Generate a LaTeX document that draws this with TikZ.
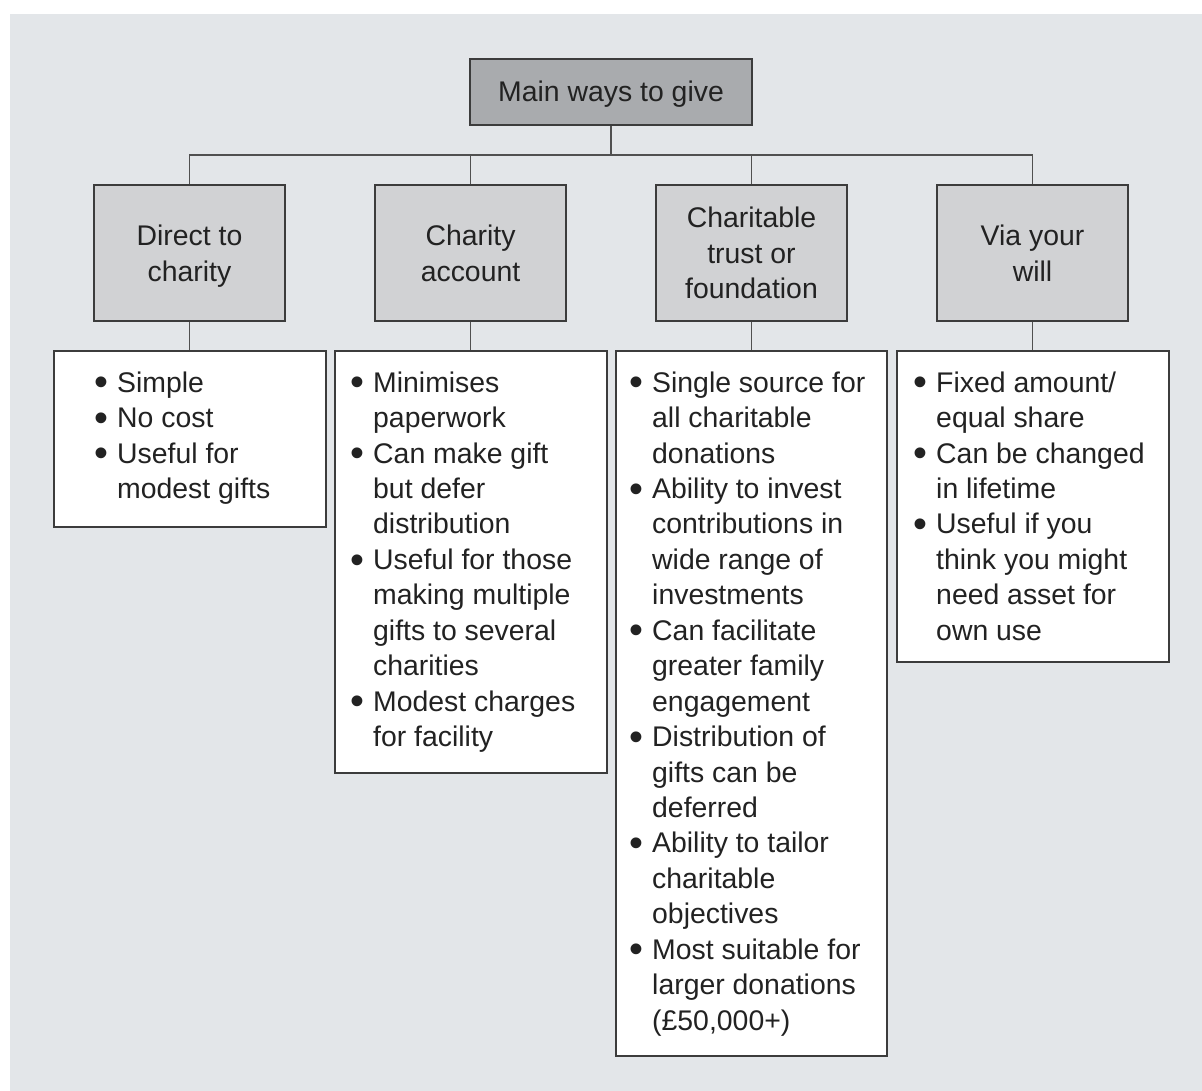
\documentclass[tikz,border=0pt]{standalone}
\usepackage{fontspec}
\usepackage{graphicx}
\setmainfont{Liberation Sans}
\definecolor{bggray}{HTML}{E3E6E9}
\definecolor{topgray}{HTML}{A9ABAE}
\definecolor{midgray}{HTML}{D1D2D4}
\definecolor{edgegray}{HTML}{3C3C3C}
\definecolor{txt}{HTML}{222222}
\newcommand{\bul}{\strut\makebox[21.5pt][l]{\hspace*{-1.5pt}\smash{\raisebox{-3.6pt}{\scalebox{1.4}{•}}}}}
\newcommand{\ind}{\strut\hspace*{21.5pt}}
\tikzset{
  boxbase/.style={draw=edgegray, line width=1.6pt, inner sep=0pt, text=txt},
  topbox/.style={boxbase, fill=topgray},
  catbox/.style={boxbase, fill=midgray, minimum width=191pt, minimum height=136pt},
  detbox/.style={boxbase, fill=white},
  btext/.style={anchor=north west, inner sep=0pt, align=left, text=txt,
    font=\fontsize{28.4}{35.44}\selectfont},
  ctext/.style={align=center, inner sep=0pt, text=txt, font=\fontsize{28.4}{35.44}\selectfont},
  conn/.style={draw=edgegray!90, line width=1.6pt}
}
\begin{document}
\begin{tikzpicture}[x=1pt,y=-1pt]
\useasboundingbox (0,0) rectangle (1202,1091);
\fill[white] (0,0) rectangle (1202,1091);
\fill[bggray] (10,14) rectangle (1202,1091);

% top box
\node[topbox, minimum width=282pt, minimum height=66pt] (top) at (611,92) {};
\node[ctext] (topt) at (611,94) {\strut Main ways to give};

% category boxes
\node[catbox] (c1) at (189.5,253) {};
\node[catbox] (c2) at (470.5,253) {};
\node[catbox] (c3) at (751.5,253) {};
\node[catbox] (c4) at (1032.5,253) {};
\node[ctext] (c1t) at (189.5,256.5) {\strut Direct to\\\strut charity};
\node[ctext] (c2t) at (470.5,256.5) {\strut Charity\\\strut account};
\node[ctext] (c3t) at (751.5,256) {\strut Charitable\\\strut trust or\\\strut foundation};
\node[ctext] (c4t) at (1032.5,256.5) {\strut Via your\\\strut will};

% detail boxes
\node[detbox, minimum width=272pt, minimum height=176pt] (d1) at (190,439) {};
\node[detbox, minimum width=272pt, minimum height=422pt] (d2) at (471,562) {};
\node[detbox, minimum width=271pt, minimum height=705pt] (d3) at (751.5,703.5) {};
\node[detbox, minimum width=272pt, minimum height=311pt] (d4) at (1033,506.5) {};

% texts
\node[btext] (t1) at (95.5,367.2) {\bul Simple\\\bul No cost\\\bul Useful for\\\ind modest gifts};
\node[btext] (t2) at (351.5,367.2) {\bul Minimises\\\ind paperwork\\\bul Can make gift\\\ind but defer\\\ind distribution\\\bul Useful for those\\\ind making multiple\\\ind gifts to several\\\ind charities\\\bul Modest charges\\\ind for facility};
\node[btext] (t3) at (630.5,367.2) {\bul Single source for\\\ind all charitable\\\ind donations\\\bul Ability to invest\\\ind contributions in\\\ind wide range of\\\ind investments\\\bul Can facilitate\\\ind greater family\\\ind engagement\\\bul Distribution of\\\ind gifts can be\\\ind deferred\\\bul Ability to tailor\\\ind charitable\\\ind objectives\\\bul Most suitable for\\\ind larger donations\\\ind (£50,000+)};
\node[btext] (t4) at (914.5,367.2) {\bul Fixed amount/\\\ind equal share\\\bul Can be changed\\\ind in lifetime\\\bul Useful if you\\\ind think you might\\\ind need asset for\\\ind own use};

% connectors
\coordinate (hub) at (611,155);
\draw[conn] (top.south) -- (hub);
\draw[conn] (c1.north) |- (hub) -| (c4.north);
\draw[conn] (c2.north) -- (c2.north |- hub);
\draw[conn] (c3.north) -- (c3.north |- hub);
\draw[conn] (c1.south) -- (d1.north -| c1.south);
\draw[conn] (c2.south) -- (d2.north -| c2.south);
\draw[conn] (c3.south) -- (d3.north -| c3.south);
\draw[conn] (c4.south) -- (d4.north -| c4.south);
\end{tikzpicture}
\end{document}
